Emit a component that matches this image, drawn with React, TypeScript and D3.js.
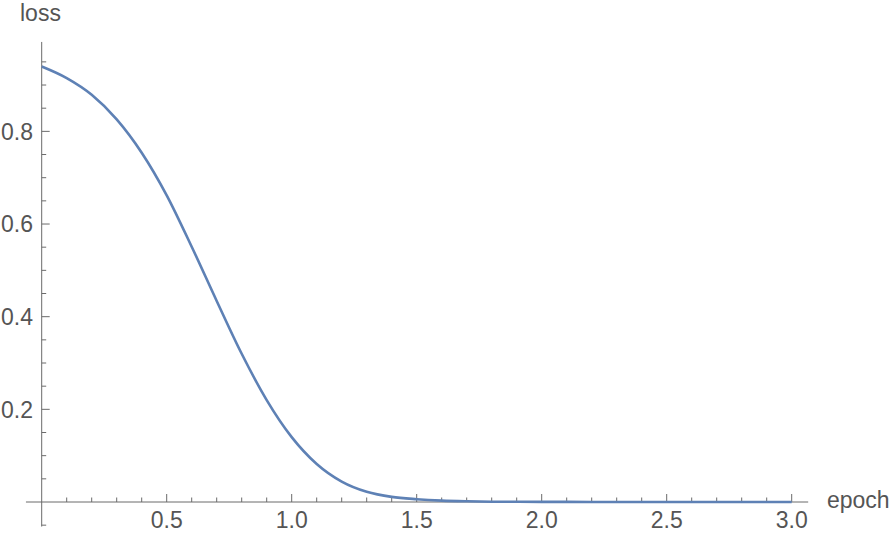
import React from "react";
import * as d3 from "d3";

const epochs = [0, 0.1, 0.2, 0.3, 0.4, 0.5, 0.6, 0.7, 0.8, 0.9, 1.0, 1.1, 1.2, 1.3, 1.4, 1.5, 1.6, 1.7, 1.8, 2.0, 2.2, 2.5, 3.0];
const losses = [0.94, 0.915, 0.879, 0.826, 0.754, 0.662, 0.551, 0.434, 0.32, 0.22, 0.14, 0.082, 0.044, 0.022, 0.011, 0.006, 0.003, 0.0015, 0.0007, 0.0003, 0.0001, 0, 0];
const xMajor = [0.5, 1.0, 1.5, 2.0, 2.5, 3.0];
const yMajor = [0.2, 0.4, 0.6, 0.8];

const W = 894;
const H = 536;
const FONT = "'Liberation Sans', Arial, sans-serif";
const AXIS = "#6b6b6b";
const TEXT = "#555555";

export default function App() {
  const x = d3.scaleLinear().domain([0, 3]).range([41.7, 791.7]);
  const y = d3.scaleLinear().domain([0, 1]).range([502, 38.7]);
  const data = epochs.map((e, i) => [e, losses[i]] as [number, number]);
  const line = d3
    .line<[number, number]>()
    .x((d) => x(d[0]))
    .y((d) => y(d[1]))
    .curve(d3.curveMonotoneX);

  const xMinor = d3.range(1, 31).map((i) => i / 10).filter((v) => !xMajor.some((m) => Math.abs(m - v) < 1e-6));
  const yMinor = d3.range(-1, 20).map((i) => i / 20).filter((v) => Math.abs(v) > 1e-6 && !yMajor.some((m) => Math.abs(m - v) < 1e-6));

  return (
    <svg width={W} height={H} style={{ position: "fixed", left: 0, top: 0, background: "#fff" }}>
      <line x1={x(-0.063)} x2={x(3.066)} y1={y(0)} y2={y(0)} stroke={AXIS} strokeWidth={1} />
      <line x1={x(0)} x2={x(0)} y1={y(-0.053)} y2={y(0.993)} stroke={AXIS} strokeWidth={1} />
      {xMinor.map((v) => (
        <line key={"xm" + v} x1={x(v)} x2={x(v)} y1={y(0)} y2={y(0) - 4.5} stroke={AXIS} strokeWidth={1} />
      ))}
      {xMajor.map((v) => (
        <g key={"xM" + v}>
          <line x1={x(v)} x2={x(v)} y1={y(0)} y2={y(0) - 8} stroke={AXIS} strokeWidth={1} />
          <text x={x(v)} y={528} textAnchor="middle" fontFamily={FONT} fontSize={23} fill={TEXT}>
            {v.toFixed(1)}
          </text>
        </g>
      ))}
      {yMinor.map((v) => (
        <line key={"ym" + v} x1={x(0)} x2={x(0) + 4.5} y1={y(v)} y2={y(v)} stroke={AXIS} strokeWidth={1} />
      ))}
      {yMajor.map((v) => (
        <g key={"yM" + v}>
          <line x1={x(0)} x2={x(0) + 8} y1={y(v)} y2={y(v)} stroke={AXIS} strokeWidth={1} />
          <text x={33} y={y(v)} dy="0.36em" textAnchor="end" fontFamily={FONT} fontSize={23} fill={TEXT}>
            {v.toFixed(1)}
          </text>
        </g>
      ))}
      <path d={line(data) || ""} fill="none" stroke="#5e81b5" strokeWidth={2.6} />
      <text x={20} y={21} fontFamily={FONT} fontSize={23} fill={TEXT}>loss</text>
      <text x={827} y={508} fontFamily={FONT} fontSize={23} fill={TEXT}>epoch</text>
    </svg>
  );
}
